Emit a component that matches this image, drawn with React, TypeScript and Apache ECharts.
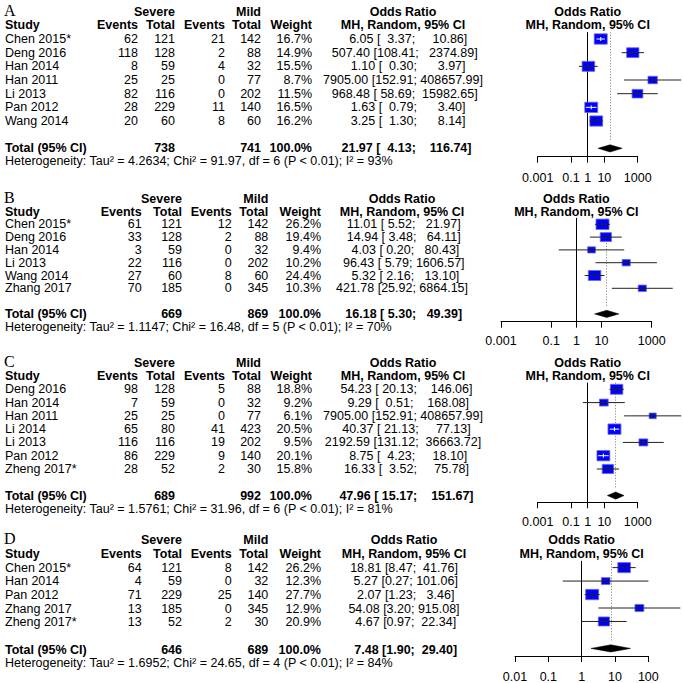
import React, { useEffect, useRef } from "react";
import * as echarts from "echarts";

const FONT = '"Liberation Sans", Arial, Helvetica, sans-serif';
const SERIF = '"Liberation Serif", "Times New Roman", serif';
const NB = "\u00A0";
const FS = 12.5;

// ---------- Panel A ----------
const studiesA = ["Chen 2015*", "Deng 2016", "Han 2014", "Han 2011", "Li 2013", "Pan 2012", "Wang 2014"];
const sevEventsA = [62, 118, 8, 25, 82, 28, 20];
const sevTotalA = [121, 128, 59, 25, 116, 229, 60];
const mildEventsA = [21, 2, 4, 0, 0, 11, 8];
const mildTotalA = [142, 88, 32, 77, 202, 140, 60];
const weightA = [16.7, 14.9, 15.5, 8.7, 11.5, 16.5, 16.2];
const orA = [6.05, 507.4, 1.1, 7905.0, 968.48, 1.63, 3.25];
const lowerA = [3.37, 108.41, 0.3, 152.91, 58.69, 0.79, 1.3];
const upperA = [10.86, 2374.89, 3.97, 408657.99, 15982.65, 3.4, 8.14];
const pooledA = [21.97, 4.13, 116.74];
const hetA = "Heterogeneity: Tau² = 4.2634; Chi² = 91.97, df = 6 (P < 0.01); I² = 93%";

// ---------- Panel B ----------
const studiesB = ["Chen 2015*", "Deng 2016", "Han 2014", "Li 2013", "Wang 2014", "Zhang 2017"];
const sevEventsB = [61, 33, 3, 22, 27, 70];
const sevTotalB = [121, 128, 59, 116, 60, 185];
const mildEventsB = [12, 2, 0, 0, 8, 0];
const mildTotalB = [142, 88, 32, 202, 60, 345];
const weightB = [26.2, 19.4, 9.4, 10.2, 24.4, 10.3];
const orB = [11.01, 14.94, 4.03, 96.43, 5.32, 421.78];
const lowerB = [5.52, 3.48, 0.2, 5.79, 2.16, 25.92];
const upperB = [21.97, 64.11, 80.43, 1606.57, 13.1, 6864.15];
const pooledB = [16.18, 5.3, 49.39];
const hetB = "Heterogeneity: Tau² = 1.1147; Chi² = 16.48, df = 5 (P < 0.01); I² = 70%";

// ---------- Panel C ----------
const studiesC = ["Deng 2016", "Han 2014", "Han 2011", "Li 2014", "Li 2013", "Pan 2012", "Zheng 2017*"];
const sevEventsC = [98, 7, 25, 65, 116, 86, 28];
const sevTotalC = [128, 59, 25, 80, 116, 229, 52];
const mildEventsC = [5, 0, 0, 41, 19, 9, 2];
const mildTotalC = [88, 32, 77, 423, 202, 140, 30];
const weightC = [18.8, 9.2, 6.1, 20.5, 9.5, 20.1, 15.8];
const orC = [54.23, 9.29, 7905.0, 40.37, 2192.59, 8.75, 16.33];
const lowerC = [20.13, 0.51, 152.91, 21.13, 131.12, 4.23, 3.52];
const upperC = [146.06, 168.08, 408657.99, 77.13, 36663.72, 18.1, 75.78];
const pooledC = [47.96, 15.17, 151.67];
const hetC = "Heterogeneity: Tau² = 1.5761; Chi² = 31.96, df = 6 (P < 0.01); I² = 81%";

// ---------- Panel D ----------
const studiesD = ["Chen 2015*", "Han 2014", "Pan 2012", "Zhang 2017", "Zheng 2017*"];
const sevEventsD = [64, 4, 71, 13, 13];
const sevTotalD = [121, 59, 229, 185, 52];
const mildEventsD = [8, 0, 25, 0, 2];
const mildTotalD = [142, 32, 140, 345, 30];
const weightD = [26.2, 12.3, 27.7, 12.9, 20.9];
const orD = [18.81, 5.27, 2.07, 54.08, 4.67];
const lowerD = [8.47, 0.27, 1.23, 3.2, 0.97];
const upperD = [41.76, 101.06, 3.46, 915.08, 22.34];
const pooledD = [7.48, 1.9, 29.4];
const hetD = "Heterogeneity: Tau² = 1.6952; Chi² = 24.65, df = 4 (P < 0.01); I² = 84%";

// ---------- Axis ticks ----------
const ticksWide = [0.001, 0.1, 1, 10, 1000];
const tickLabelsWide = ["0.001", "0.1", "1", "10", "1000"];
const ticksNarrow = [0.01, 0.1, 1, 10, 100];
const tickLabelsNarrow = ["0.01", "0.1", "1", "10", "100"];

const panels = [
  {
    letter: "A", studies: studiesA, sevE: sevEventsA, sevT: sevTotalA, mildE: mildEventsA, mildT: mildTotalA,
    weight: weightA, or: orA, lo: lowerA, up: upperA, pooled: pooledA, het: hetA,
    ticks: ticksWide, tickLabels: tickLabelsWide,
    lay: { row1: 39, sp: 13.67, axisY: 156.7, gl: 537.7, gw: 100, dmin: -3, dmax: 3, margin: 14.5, cols: [138, 175, 225, 261, 312, 403] },
  },
  {
    letter: "B", studies: studiesB, sevE: sevEventsB, sevT: sevTotalB, mildE: mildEventsB, mildT: mildTotalB,
    weight: weightB, or: orB, lo: lowerB, up: upperB, pooled: pooledB, het: hetB,
    ticks: ticksWide, tickLabels: tickLabelsWide,
    lay: { row1: 224.3, sp: 12.8, axisY: 321.7, gl: 501, gw: 150.7, dmin: -3, dmax: 3, margin: 13, cols: [141.7, 182, 231.7, 268.3, 321, 402] },
  },
  {
    letter: "C", studies: studiesC, sevE: sevEventsC, sevT: sevTotalC, mildE: mildEventsC, mildT: mildTotalC,
    weight: weightC, or: orC, lo: lowerC, up: upperC, pooled: pooledC, het: hetC,
    ticks: ticksWide, tickLabels: tickLabelsWide,
    lay: { row1: 389.3, sp: 13.28, axisY: 502.3, gl: 537.7, gw: 100, dmin: -3, dmax: 3, margin: 13, cols: [138, 175, 225, 261, 312, 403] },
  },
  {
    letter: "D", studies: studiesD, sevE: sevEventsD, sevT: sevTotalD, mildE: mildEventsD, mildT: mildTotalD,
    weight: weightD, or: orD, lo: lowerD, up: upperD, pooled: pooledD, het: hetD,
    ticks: ticksNarrow, tickLabels: tickLabelsNarrow,
    lay: { row1: 567.7, sp: 13.65, axisY: 657.3, gl: 515, gw: 133.3, dmin: -2, dmax: 2, margin: 14, cols: [141.7, 182, 231.7, 268.3, 321, 404] },
  },
];

const f2 = (v: number) => v.toFixed(2);
const padTo = (s: string, n: number) => NB.repeat(Math.max(0, n - s.length)) + s;
const sum = (a: number[]) => a.reduce((p, c) => p + c, 0);

function text(x: number, y: number, t: string, align: string, bold = false, size = FS, family = FONT) {
  return {
    type: "text",
    x, y, silent: true,
    style: {
      text: t,
      fill: "#000",
      font: `${bold ? "bold " : ""}${size}px ${family}`,
      align, textAlign: align,
      verticalAlign: "middle", textVerticalAlign: "middle",
    },
  };
}

const BOXW = 13;

function renderItem(params: any, api: any) {
  const est = api.value(0);
  const row = api.value(1);
  const lo = api.value(2);
  const up = api.value(3);
  const w = api.value(4);
  const kind = api.value(5);
  const wmax = api.value(6);
  const c = api.coord([est, row]);
  const cl = api.coord([lo, row]);
  const cu = api.coord([up, row]);
  if (kind === 1) {
    return {
      type: "polygon",
      shape: { points: [[cl[0], c[1]], [c[0], c[1] - 3.6], [cu[0], c[1]], [c[0], c[1] + 3.6]] },
      style: { fill: "#000", stroke: "#000", lineWidth: 0.5 },
    };
  }
  const s = Math.sqrt(w / wmax);
  const bw = BOXW * s;
  const bh = bw * 0.8;
  const inside = cl[0] >= c[0] - bw / 2 && cu[0] <= c[0] + bw / 2;
  const col = inside ? "#ffffff" : "#222222";
  return {
    type: "group",
    children: [
      { type: "rect", shape: { x: c[0] - bw / 2, y: c[1] - bh / 2, width: bw, height: bh }, style: { fill: "#0000ff", stroke: "#6b6bd6", lineWidth: 0.8 } },
      { type: "line", shape: { x1: cl[0], y1: c[1], x2: cu[0], y2: c[1] }, style: { stroke: col, lineWidth: 1 } },
      { type: "line", shape: { x1: c[0], y1: c[1] - 2, x2: c[0], y2: c[1] + 2 }, style: { stroke: col, lineWidth: 1 } },
    ],
  };
}

function buildOption() {
  const grids: any[] = [];
  const xAxes: any[] = [];
  const yAxes: any[] = [];
  const series: any[] = [];
  const graphics: any[] = [];

  panels.forEach((p, k) => {
    const L = p.lay;
    const n = p.studies.length;
    const yOf = (r: number) => L.row1 + (r - 1) * L.sp;
    const top = yOf(0.5);
    grids.push({ left: L.gl, top, width: L.gw, height: L.axisY - top, containLabel: false });
    const tickVals = p.ticks.map((t) => Math.log10(t));
    const labelMap: Record<string, string> = {};
    tickVals.forEach((v, i) => (labelMap[v.toFixed(3)] = p.tickLabels[i]));
    xAxes.push({
      type: "value", gridIndex: k, min: L.dmin, max: L.dmax, interval: 1,
      axisLine: { show: true, onZero: false, lineStyle: { color: "#000", width: 1 } },
      axisTick: { show: true, customValues: tickVals, length: 6, lineStyle: { color: "#000", width: 1 } },
      axisLabel: {
        customValues: tickVals, margin: L.margin, color: "#000", fontSize: FS, fontFamily: FONT,
        formatter: (v: number) => labelMap[Number(v).toFixed(3)] ?? "",
      },
      splitLine: { show: false },
    });
    const yMax = 1 + (L.axisY - L.row1) / L.sp;
    yAxes.push({ type: "value", gridIndex: k, min: 0.5, max: yMax, inverse: true, show: false });

    const wmax = Math.max(...p.weight);
    const data = p.studies.map((_, i) => [
      Math.log10(p.or[i]), i + 1, Math.log10(p.lo[i]), Math.log10(p.up[i]), p.weight[i], 0, wmax,
    ]);
    const sumRow = n + 2;
    data.push([Math.log10(p.pooled[0]), sumRow, Math.log10(p.pooled[1]), Math.log10(p.pooled[2]), 0, 1, wmax]);
    series.push({
      type: "custom", xAxisIndex: k, yAxisIndex: k, clip: false, silent: true, z: 3,
      encode: { x: 0, y: 1 },
      renderItem, data,
      markLine: {
        silent: true, symbol: "none", z: 1, animation: false,
        label: { show: false },
        data: [
          [
            { coord: [Math.log10(p.pooled[0]), 0.5], lineStyle: { color: "#8c8c8c", type: [1.2, 1.6], width: 1 } },
            { coord: [Math.log10(p.pooled[0]), sumRow - 0.5] },
          ],
          { xAxis: 0, lineStyle: { color: "#000", type: "solid", width: 1 } },
        ],
      },
    });

    // ---- table text ----
    const c = L.cols;
    graphics.push(text(4, yOf(-1) - 1.5, p.letter, "left", false, 16, SERIF));
    graphics.push(text(c[1], yOf(-1), "Severe", "right", true));
    graphics.push(text(c[3], yOf(-1), "Mild", "right", true));
    graphics.push(text(c[5], yOf(-1), "Odds Ratio", "center", true));
    graphics.push(text(5, yOf(0), "Study", "left", true));
    graphics.push(text(c[0], yOf(0), "Events", "right", true));
    graphics.push(text(c[1], yOf(0), "Total", "right", true));
    graphics.push(text(c[2], yOf(0), "Events", "right", true));
    graphics.push(text(c[3], yOf(0), "Total", "right", true));
    graphics.push(text(c[4], yOf(0), "Weight", "right", true));
    graphics.push(text(c[5], yOf(0), "MH, Random, 95% CI", "center", true));
    const gc = L.gl + L.gw / 2;
    graphics.push(text(gc, yOf(-1), "Odds Ratio", "center", true));
    graphics.push(text(gc, yOf(0), "MH, Random, 95% CI", "center", true));

    const estS = [...p.or, p.pooled[0]].map(f2);
    const loS = [...p.lo, p.pooled[1]].map(f2);
    const upS = [...p.up, p.pooled[2]].map(f2);
    const me = Math.max(...estS.map((s) => s.length));
    const ml = Math.max(...loS.map((s) => s.length));
    const mu = Math.max(...upS.map((s) => s.length));
    const ci = (i: number) => `${padTo(estS[i], me)} [${padTo(loS[i], ml)}; ${padTo(upS[i], mu)}]`;

    p.studies.forEach((s, i) => {
      const y = yOf(i + 1);
      graphics.push(text(5, y, s, "left"));
      graphics.push(text(c[0], y, String(p.sevE[i]), "right"));
      graphics.push(text(c[1], y, String(p.sevT[i]), "right"));
      graphics.push(text(c[2], y, String(p.mildE[i]), "right"));
      graphics.push(text(c[3], y, String(p.mildT[i]), "right"));
      graphics.push(text(c[4], y, p.weight[i].toFixed(1) + "%", "right"));
      graphics.push(text(c[5], y, ci(i), "center"));
    });
    const ys = yOf(sumRow);
    graphics.push(text(5, ys, "Total (95% CI)", "left", true));
    graphics.push(text(c[1], ys, String(sum(p.sevT)), "right", true));
    graphics.push(text(c[3], ys, String(sum(p.mildT)), "right", true));
    graphics.push(text(c[4], ys, "100.0%", "right", true));
    graphics.push(text(c[5], ys, ci(n), "center", true));
    graphics.push(text(5, ys + 13, p.het, "left"));
  });

  return {
    animation: false,
    backgroundColor: "#ffffff",
    grid: grids,
    xAxis: xAxes,
    yAxis: yAxes,
    series,
    graphic: { elements: graphics },
  };
}

export default function App() {
  const ref = useRef<HTMLDivElement>(null);
  useEffect(() => {
    if (!ref.current) return;
    const chart = echarts.init(ref.current, undefined, { renderer: "svg" });
    chart.setOption(buildOption() as any);
    return () => chart.dispose();
  }, []);
  return (
    <div
      ref={ref}
      style={{ position: "fixed", left: 0, top: 0, width: 683, height: 683, background: "#fff" }}
    />
  );
}
